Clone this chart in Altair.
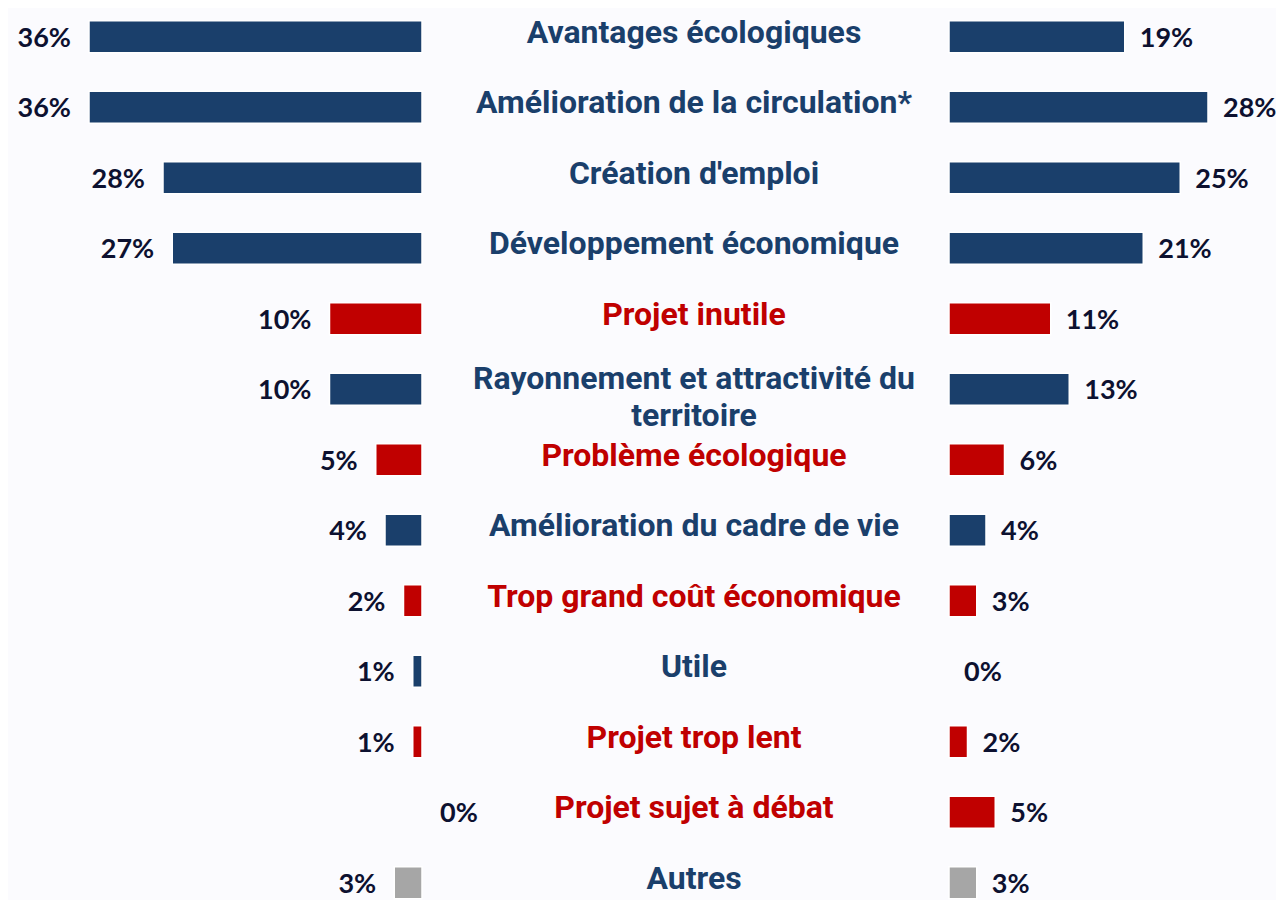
import altair as alt
import pandas as pd

categories = [
    "Avantages écologiques",
    "Amélioration de la circulation*",
    "Création d'emploi",
    "Développement économique",
    "Projet inutile",
    "Rayonnement et attractivité du\nterritoire",
    "Problème écologique",
    "Amélioration du cadre de vie",
    "Trop grand coût économique",
    "Utile",
    "Projet trop lent",
    "Projet sujet à débat",
    "Autres",
]
left_values = [36, 36, 28, 27, 10, 10, 5, 4, 2, 1, 1, 0, 3]
right_values = [19, 28, 25, 21, 11, 13, 6, 4, 3, 0, 2, 5, 3]
kinds = ["pos", "pos", "pos", "pos", "neg", "pos", "neg", "pos", "neg", "pos", "neg", "neg", "other"]

df = pd.DataFrame({
    "cat": categories,
    "left": left_values,
    "right": right_values,
    "kind": kinds,
    "row": list(range(len(categories))),
})
df["left_lbl"] = df["left"].astype(str) + "%"
df["right_lbl"] = df["right"].astype(str) + "%"

NAVY = "#1a3f6b"
RED = "#c00000"
GREY = "#a6a6a6"
LBL = "#0d1130"
BG = "#fbfbfe"

# layout (pixels)
W, H = 1268, 892
ROW_PX = 71.3
PX_PER_PCT = 9.25
LEFT_BASE_PX = 414   # where left bars end
RIGHT_BASE_PX = 941  # where right bars start
CENTER_PX = 686

LB = LEFT_BASE_PX / PX_PER_PCT
RB = RIGHT_BASE_PX / PX_PER_PCT

bar_colors = alt.Scale(domain=["pos", "neg", "other"], range=[NAVY, RED, GREY])

xs = alt.Scale(domain=[0, W / PX_PER_PCT], nice=False, zero=False)
ys = alt.Scale(domain=[-24 / ROW_PX, (H - 24) / ROW_PX], reverse=True, nice=False, zero=False)
Y = alt.Y("row:Q", scale=ys, axis=None)

VFONT = "Lato"
VSIZE = 27

base = alt.Chart(df).transform_calculate(
    lx0=f"{LB} - datum.left",
    lx1=f"{LB}",
    rx0=f"{RB}",
    rx1=f"{RB} + datum.right",
)

left_bars = base.transform_filter("datum.left > 0").mark_bar(
    orient="horizontal", size=32, clip=True, stroke="white", strokeWidth=1.5
).encode(
    x=alt.X("lx0:Q", scale=xs, axis=None),
    x2="lx1:Q",
    y=Y,
    color=alt.Color("kind:N", scale=bar_colors, legend=None),
)
right_bars = base.transform_filter("datum.right > 0").mark_bar(
    orient="horizontal", size=32, clip=True, stroke="white", strokeWidth=1.5
).encode(
    x=alt.X("rx0:Q", scale=xs, axis=None),
    x2="rx1:Q",
    y=Y,
    color=alt.Color("kind:N", scale=bar_colors, legend=None),
)

left_text = base.transform_filter("datum.left > 0").mark_text(
    align="right", baseline="middle", dx=-18, dy=2, font=VFONT, fontWeight="bold", fontSize=VSIZE, color=LBL
).encode(x=alt.X("lx0:Q", scale=xs, axis=None), y=Y, text="left_lbl:N")
left_zero = base.transform_filter("datum.left == 0").mark_text(
    align="left", baseline="middle", dx=18, dy=2, font=VFONT, fontWeight="bold", fontSize=VSIZE, color=LBL
).encode(x=alt.X("lx1:Q", scale=xs, axis=None), y=Y, text="left_lbl:N")
right_text = base.mark_text(
    align="left", baseline="middle", dx=15, dy=2, font=VFONT, fontWeight="bold", fontSize=VSIZE, color=LBL
).encode(x=alt.X("rx1:Q", scale=xs, axis=None), y=Y, text="right_lbl:N")

label_color = alt.condition("datum.kind == 'neg'", alt.value(RED), alt.value(NAVY))

single = base.transform_filter("indexof(datum.cat, '\\n') < 0").mark_text(
    align="center", baseline="alphabetic", dy=6, font="Roboto", fontWeight="bold", fontSize=32
).encode(
    x=alt.value(CENTER_PX),
    y=Y,
    text="cat:N",
    color=label_color,
)
multi = base.transform_filter("indexof(datum.cat, '\\n') >= 0").mark_text(
    align="center", baseline="alphabetic", dy=0, font="Roboto", fontWeight="bold", fontSize=32,
    lineBreak="\n", lineHeight=37
).encode(
    x=alt.value(CENTER_PX),
    y=Y,
    text="cat:N",
    color=label_color,
)

chart = alt.layer(
    left_bars, right_bars, left_text, left_zero, right_text, single, multi
).properties(
    width=W, height=H, background=BG, padding=0,
    autosize=alt.AutoSizeParams(type="none"),
).configure_view(stroke=None)

chart.save("out.html", embed_options={"renderer": "svg", "actions": False})
